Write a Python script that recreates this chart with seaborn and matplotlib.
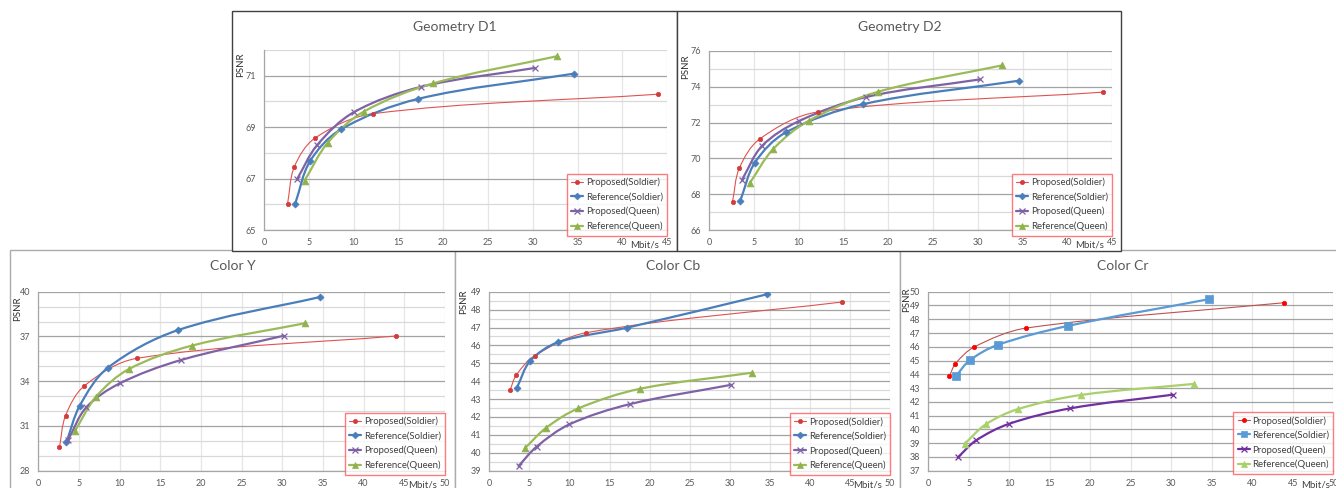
import numpy as np
import matplotlib
matplotlib.use('Agg')
import matplotlib.pyplot as plt
import seaborn as sns
from matplotlib.path import Path
from matplotlib.patches import PathPatch, Rectangle
from matplotlib.lines import Line2D

# ---------------- data ----------------
series_names = ["Proposed(Soldier)", "Reference(Soldier)", "Proposed(Queen)", "Reference(Queen)"]

# bitrates (Mbit/s)
ps_x = [2.6, 3.35, 5.65, 12.1, 43.95]
rs_x = [3.45, 5.1, 8.55, 17.2, 34.6]
pq_x = [3.65, 5.9, 10.0, 17.55, 30.2]
rq_x = [4.5, 7.1, 11.1, 18.85, 32.75]

# Geometry D1
d1_ps = [66.02, 67.45, 68.57, 69.52, 70.28]
d1_rs = [66.02, 67.67, 68.91, 70.10, 71.08]
d1_pq = [66.97, 68.30, 69.58, 70.57, 71.30]
d1_rq = [66.92, 68.40, 69.60, 70.70, 71.76]

# Geometry D2
d2_ps = [67.59, 69.45, 71.09, 72.59, 73.70]
d2_rs = [67.62, 69.77, 71.45, 73.03, 74.34]
d2_pq = [68.80, 70.70, 72.08, 73.43, 74.41]
d2_rq = [68.60, 70.50, 72.10, 73.72, 75.20]

# Color Y
y_ps = [29.56, 31.69, 33.68, 35.53, 37.03]
y_rs = [29.90, 32.36, 34.90, 37.43, 39.64]
y_pq = [30.05, 32.25, 33.85, 35.42, 37.05]
y_rq = [30.66, 32.96, 34.80, 36.38, 37.88]

# Color Cb
cb_ps = [43.51, 44.33, 45.42, 46.71, 48.42]
cb_rs = [43.64, 45.13, 46.17, 46.99, 48.85]
cb_pq = [39.26, 40.34, 41.59, 42.72, 43.80]
cb_rq = [40.28, 41.40, 42.48, 43.58, 44.47]

# Color Cr
cr_ps = [43.85, 44.77, 45.98, 47.36, 49.20]
cr_rs = [43.90, 45.01, 46.13, 47.51, 49.45]
cr_pq = [37.97, 39.20, 40.41, 41.53, 42.52]
cr_rq = [38.96, 40.37, 41.48, 42.50, 43.30]

titles = ["Geometry D1", "Geometry D2", "Color Y", "Color Cb", "Color Cr"]

# ---------------- style ----------------
sns.set_theme(style='white')
plt.rcParams['font.family'] = ['Lato', 'DejaVu Sans']

W, H = 1336, 488
fig = plt.figure(figsize=(W / 100, H / 100), dpi=100)


def fx(px):
    return px / W


def fy(py):
    return 1 - py / H


std_style = [
    dict(line='#E05252', mk='#D43C3C', m='o', s=10, lw=0.8, mlw=0.5),
    dict(line='#4A7EBB', mk='#4A7EBB', m='D', s=13, lw=1.6, mlw=0.5),
    dict(line='#7F62A5', mk='#7F62A5', m='x', s=18, lw=1.6, mlw=0.9),
    dict(line='#9BBB59', mk='#8FB24C', m='^', s=24, lw=1.6, mlw=0.5),
]
cr_style = [
    dict(line='#C0504D', mk='#FF0000', m='o', s=10, lw=0.8, mlw=0.5),
    dict(line='#5B9BD5', mk='#5B9BD5', m='s', s=28, lw=1.6, mlw=0.5),
    dict(line='#7030A0', mk='#7030A0', m='x', s=18, lw=1.6, mlw=0.9),
    dict(line='#A9D06B', mk='#A9D06B', m='^', s=24, lw=1.6, mlw=0.5),
]

# panel layout (pixel coords of plot areas), ranges, ticks
panels = [
    dict(title=titles[0], data=[d1_ps, d1_rs, d1_pq, d1_rq], style=std_style,
         box=(264.3, 50, 667, 230), xmax=45, ylim=(65, 72), major=[65, 67, 69, 71], minor=[66, 68, 70, 72],
         chart=(232, 11, 677, 251), title_xy=(455, 27), ylab=(240.5, 65), xlab=(645, 245.5),
         leg=(667, 173.5)),
    dict(title=titles[1], data=[d2_ps, d2_rs, d2_pq, d2_rq], style=std_style,
         box=(709.3, 51, 1112, 230), xmax=45, ylim=(66, 76), major=[66, 68, 70, 72, 74, 76],
         minor=[67, 69, 71, 73, 75], chart=(677, 11, 1121, 251), title_xy=(899.5, 27),
         ylab=(685.5, 66.5), xlab=(1090, 245.5), leg=(1112, 173.5)),
    dict(title=titles[2], data=[y_ps, y_rs, y_pq, y_rq], style=std_style,
         box=(38.3, 291.7, 445, 470.7), xmax=50, ylim=(28, 40), major=[28, 31, 34, 37, 40],
         minor=[29, 30, 32, 33, 35, 36, 38, 39], chart=(10, 250, 455, 500), title_xy=(232.5, 266.5),
         ylab=(17.5, 309), xlab=(423, 484.5), leg=(445, 412.5)),
    dict(title=titles[3], data=[cb_ps, cb_rs, cb_pq, cb_rq], style=std_style,
         box=(489.3, 291.7, 890, 470.7), xmax=50, ylim=(39, 49), major=list(range(39, 50)),
         minor=[v + 0.5 for v in range(39, 49)], chart=(455, 250, 900, 500), title_xy=(673.5, 266.5),
         ylab=(464, 301.5), xlab=(868, 484.5), leg=(890, 412.7)),
    dict(title=titles[4], data=[cr_ps, cr_rs, cr_pq, cr_rq], style=cr_style,
         box=(928.3, 291.7, 1333.3, 470.7), xmax=50, ylim=(37, 50), major=list(range(37, 51)),
         minor=[], chart=(900, 250, 1340, 500), title_xy=(1122.5, 266),
         ylab=(907, 300), xlab=(1316, 484.5), leg=(1333.3, 411.7)),
]

xs_all = [ps_x, rs_x, pq_x, rq_x]


def smooth_path(xs, ys, sx, sy):
    # chord-length Catmull-Rom -> cubic Bezier, computed in pixel-scaled space
    P = np.column_stack([np.asarray(xs) * sx, np.asarray(ys) * sy])
    n = len(P)
    d = np.hypot(*(P[1:] - P[:-1]).T)
    verts = [P[0]]
    codes = [Path.MOVETO]
    for i in range(n - 1):
        p0 = P[i - 1] if i > 0 else P[i]
        p1, p2 = P[i], P[i + 1]
        p3 = P[i + 2] if i + 2 < n else P[i + 1]
        dm = d[i - 1] if i > 0 else 0.0
        dp = d[i + 1] if i + 2 < n else 0.0
        di = d[i]
        c1 = p1 + (p2 - p0) * di / (dm + di) / 3.0
        c2 = p2 - (p3 - p1) * di / (di + dp) / 3.0
        verts += [c1, c2, p2]
        codes += [Path.CURVE4] * 3
    V = np.array(verts)
    V[:, 0] /= sx
    V[:, 1] /= sy
    return Path(V, codes)


# chart-area borders (lower row first)
for p in panels[2:] + panels[:2]:
    x0, y0, x1, y1 = p['chart']
    col = '#404040' if p in panels[:2] else '#ABABAB'
    fig.add_artist(Rectangle((fx(x0), fy(y1)), fx(x1) - fx(x0), fy(y0) - fy(y1),
                             transform=fig.transFigure, fill=True, facecolor='white',
                             edgecolor=col, lw=1.0, zorder=0))

for p in panels:
    l, t, r, b = p['box']
    ax = fig.add_axes([fx(l), fy(b), fx(r) - fx(l), fy(t) - fy(b)])
    ax.set_zorder(2)
    ax.patch.set_alpha(0)
    ax.set_xlim(0, p['xmax'])
    ax.set_ylim(*p['ylim'])
    ax.set_xticks(np.arange(0, p['xmax'] + 1, 5))
    ax.set_yticks(p['major'])
    ax.set_yticks(p['minor'], minor=True)
    ax.grid(False)
    ax.grid(which='major', axis='y', color='#A3A3A3', lw=0.9)
    ax.grid(which='minor', axis='y', color='#D9D9D9', lw=0.9)
    ax.grid(which='major', axis='x', color='#E6E6E6', lw=0.9)
    for side in ['top', 'right']:
        ax.spines[side].set_visible(False)
    for side in ['left', 'bottom']:
        ax.spines[side].set_color('#A6A6A6')
        ax.spines[side].set_linewidth(0.9)
    ax.tick_params(which='major', length=3, width=0.8, color='#A6A6A6', labelsize=6.5,
                   labelcolor='#595959', pad=3, direction='out')
    ax.tick_params(which='minor', length=0)

    sx = (r - l) / p['xmax']
    sy = (b - t) / (p['ylim'][1] - p['ylim'][0])
    handles = []
    for k, (xs, ys) in enumerate(zip(xs_all, p['data'])):
        st = p['style'][k]
        path = smooth_path(xs, ys, sx, sy)
        ax.add_patch(PathPatch(path, fill=False, edgecolor=st['line'], lw=st['lw'],
                               transform=ax.transData, zorder=3 + k, capstyle='round',
                               joinstyle='round'))
        if st['m'] == 'x':
            sns.scatterplot(x=xs, y=ys, ax=ax, marker='x', s=st['s'], color=st['mk'],
                            linewidth=st['mlw'], zorder=8, legend=False)
        else:
            sns.scatterplot(x=xs, y=ys, ax=ax, marker=st['m'], s=st['s'], color=st['mk'],
                            edgecolor=st['mk'], linewidth=st['mlw'], zorder=8, legend=False)
        handles.append(Line2D([], [], color=st['line'], lw=st['lw'], marker=st['m'],
                              markersize=np.sqrt(st['s']) * 0.95, markerfacecolor=st['mk'],
                              markeredgecolor=st['mk'], markeredgewidth=st['mlw']))
    ax.set_xlabel('')
    ax.set_ylabel('')

    leg = fig.legend(handles, series_names, loc='upper right',
                     bbox_to_anchor=(fx(p['leg'][0]), fy(p['leg'][1])),
                     bbox_transform=fig.transFigure, borderaxespad=0, frameon=True,
                     fancybox=False, fontsize=6.9, handlelength=1.25, handletextpad=0.25,
                     labelspacing=0.55, borderpad=0.45, labelcolor='#404040')
    leg.get_frame().set_edgecolor('#FF5A5A')
    leg.get_frame().set_linewidth(1.0)
    leg.set_zorder(10)

    fig.text(fx(p['title_xy'][0]), fy(p['title_xy'][1]), p['title'], ha='center', va='center',
             fontsize=10, color='#595959')
    fig.text(fx(p['ylab'][0]), fy(p['ylab'][1]), 'PSNR', rotation=90, ha='center', va='center',
             fontsize=7, color='#303030')
    fig.text(fx(p['xlab'][0]), fy(p['xlab'][1]), 'Mbit/s', ha='center', va='center',
             fontsize=7, color='#404040')

fig.savefig('out.png', dpi=100)
